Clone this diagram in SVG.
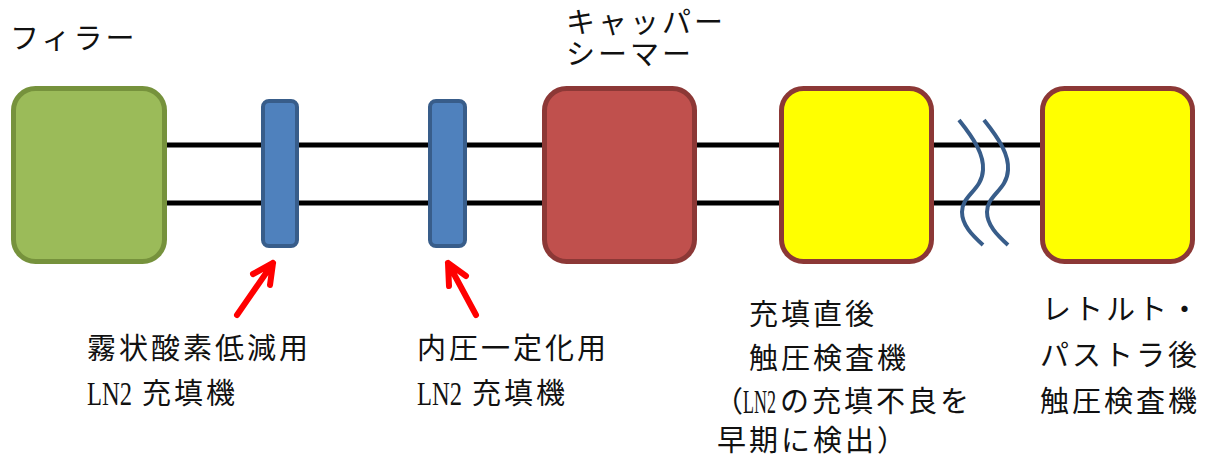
<svg xmlns="http://www.w3.org/2000/svg" width="1205" height="461" viewBox="0 0 1205 461">
<style>
.t{font-family:"Noto Sans CJK JP","Liberation Serif",serif;font-size:29px;fill:#111;letter-spacing:3px}
.l{font-family:"Liberation Serif",serif;font-size:33px;fill:#111;letter-spacing:0}
.box{stroke-width:5}
.bar{fill:#4f81bd;stroke:#385d8a;stroke-width:4}
.wire{stroke:#000;stroke-width:5;fill:none}
.arr{stroke:#ff0000;stroke-width:6;fill:none;stroke-linecap:round;stroke-linejoin:round}
.wave{stroke:#385d8a;stroke-width:4;fill:none}
</style>
<rect width="1205" height="461" fill="#fff"/>
<g id="connectors">
<line class="wire" x1="165" y1="145" x2="1042" y2="145"/>
<line class="wire" x1="165" y1="203" x2="1042" y2="203"/>
<path class="wave" d="M959,120 C975,140 984,155 983,170 C982,190 962,195 962,212 C962,225 972,235 983,245"/>
<path class="wave" d="M984,120 C1000,140 1009,155 1008,170 C1007,190 987,195 987,212 C987,225 997,235 1008,245"/>
<path class="arr" d="M237,315 L273,263 M253,274 L273,263 L270,285"/>
<path class="arr" d="M476,315 L448,263 M449,286 L448,263 L466,276"/>
</g>
<g id="filler">
<rect class="box" x="13.5" y="88.5" width="151" height="173" rx="22" fill="#9bbb59" stroke="#76923c"/>
<text class="t" x="10" y="49">フィラー</text>
</g>
<g id="ln2-filler-1">
<rect class="bar" x="263" y="101" width="34" height="145" rx="6"/>
<text class="t" x="87" y="359">霧状酸素低減用</text>
<text class="l" x="87" y="405" textLength="45" lengthAdjust="spacingAndGlyphs">LN2</text>
<text class="t" x="142" y="404">充填機</text>
</g>
<g id="ln2-filler-2">
<rect class="bar" x="430" y="101" width="35" height="145" rx="6"/>
<text class="t" x="417" y="359">内圧一定化用</text>
<text class="l" x="417" y="405" textLength="45" lengthAdjust="spacingAndGlyphs">LN2</text>
<text class="t" x="472" y="404">充填機</text>
</g>
<g id="capper">
<rect class="box" x="544.5" y="88.5" width="150" height="173" rx="22" fill="#c0504d" stroke="#8c3836"/>
<text class="t"><tspan x="566" y="33">キャッパー</tspan><tspan x="566" y="65">シーマー</tspan></text>
</g>
<g id="inspector-1">
<rect class="box" x="781.5" y="88.5" width="150" height="173" rx="22" fill="#ffff00" stroke="#8c3836"/>
<text class="t" x="749" y="325">充填直後</text>
<text class="t" x="749" y="369">触圧検査機</text>
<text class="t"><tspan x="714" y="412">（</tspan><tspan class="l" x="743" y="413" textLength="33" lengthAdjust="spacingAndGlyphs">LN2</tspan><tspan x="780" y="412">の充填不良を</tspan></text>
<text class="t" x="717" y="451">早期に検出）</text>
</g>
<g id="inspector-2">
<rect class="box" x="1042.5" y="88.5" width="150" height="173" rx="22" fill="#ffff00" stroke="#8c3836"/>
<text class="t" x="1042" y="320">レトルト・</text>
<text class="t" x="1040" y="366">パストラ後</text>
<text class="t" x="1040" y="412">触圧検査機</text>
</g>
</svg>
